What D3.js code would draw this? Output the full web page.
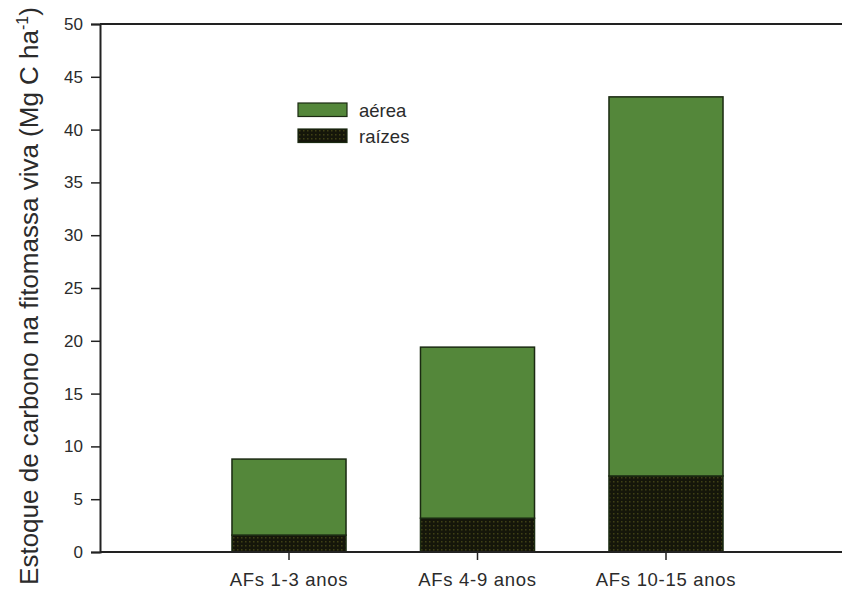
<!DOCTYPE html>
<html>
<head>
<meta charset="utf-8">
<script src="https://cdn.jsdelivr.net/npm/d3@7"></script>
<style>
  html, body { margin: 0; padding: 0; background: #fff; }
  svg { display: block; }
  text { font-family: "Liberation Sans", Arial, sans-serif; fill: #2b2b2b; }
</style>
</head>
<body>
<svg id="chart" width="842" height="594"></svg>
<script>
// Stocks of carbon in living phytomass (Mg C/ha) per agroforest age class
const categories = ["AFs 1-3 anos", "AFs 4-9 anos", "AFs 10-15 anos"];
const raizes = [1.6, 3.2, 7.2];     // roots (bottom segment)
const aerea = [7.2, 16.2, 35.9];    // above-ground (top segment)
const yTicks = [0, 5, 10, 15, 20, 25, 30, 35, 40, 45, 50];
const seriesNames = ["raízes", "aérea"];

const svg = d3.select("#chart");

const x = d3.scaleBand()
  .domain(categories)
  .range([194.75, 760.25])
  .paddingInner(0.395)
  .paddingOuter(0.1975);

const y = d3.scaleLinear().domain([0, 50]).range([552, 24]);

// Dotted dark fill for the root segment
const defs = svg.append("defs");
const pat = defs.append("pattern")
  .attr("id", "rootsPattern")
  .attr("patternUnits", "userSpaceOnUse")
  .attr("width", 4).attr("height", 4);
pat.append("rect").attr("width", 4).attr("height", 4).attr("fill", "#15160a");
pat.append("rect").attr("x", 1).attr("y", 1).attr("width", 1.5).attr("height", 1.5).attr("fill", "#3f4015");

const rows = categories.map((c, i) => ({ cat: c, "raízes": raizes[i], "aérea": aerea[i] }));
const stacked = d3.stack().keys(seriesNames)(rows);
const fills = { "raízes": "url(#rootsPattern)", "aérea": "#54873a" };

const barG = svg.append("g");
stacked.forEach(layer => {
  barG.append("g")
    .selectAll("rect")
    .data(layer)
    .join("rect")
    .attr("x", d => x(d.data.cat))
    .attr("width", x.bandwidth())
    .attr("y", d => y(d[1]))
    .attr("height", d => y(d[0]) - y(d[1]))
    .attr("fill", fills[layer.key])
    .attr("stroke", "#1b2a12")
    .attr("stroke-width", 1.5);
});

// Y axis
const yAxis = svg.append("g")
  .attr("transform", "translate(100,0)")
  .call(d3.axisLeft(y).tickValues(yTicks).tickSize(9).tickPadding(8));
yAxis.select(".domain").attr("stroke", "#222").attr("stroke-width", 2);
yAxis.selectAll(".tick line").attr("stroke", "#222").attr("stroke-width", 1.5);
yAxis.selectAll(".tick text").attr("font-size", 17).attr("fill", "#333");

// X axis
const xAxis = svg.append("g")
  .attr("transform", "translate(0,552)")
  .call(d3.axisBottom(x).tickSize(8).tickSizeOuter(0));
xAxis.select(".domain").attr("d", "M100,0H842").attr("stroke", "#222").attr("stroke-width", 2);
xAxis.selectAll(".tick line").attr("stroke", "#222").attr("stroke-width", 1.5);
xAxis.selectAll(".tick text")
  .attr("y", 34).attr("dy", 0)
  .attr("font-size", 18.5)
  .attr("letter-spacing", 0.7)
  .attr("fill", "#333");

// Top frame line
svg.append("line")
  .attr("x1", 100).attr("x2", 842)
  .attr("y1", y(50)).attr("y2", y(50))
  .attr("stroke", "#222").attr("stroke-width", 2);

// Y axis title
const yTitle = svg.append("text")
  .attr("transform", "translate(38,296) rotate(-90)")
  .attr("text-anchor", "middle")
  .attr("font-size", 26)
  .attr("fill", "#333");
yTitle.append("tspan").text("Estoque de carbono na fitomassa viva (Mg C ha");
yTitle.append("tspan").attr("dy", -10).attr("font-size", 16).text("-1");
yTitle.append("tspan").attr("dy", 10).text(")");

// Legend
const legend = svg.append("g").attr("transform", "translate(298,103)");
const legendItems = ["aérea", "raízes"];
legendItems.forEach((name, i) => {
  const g = legend.append("g").attr("transform", `translate(0,${i * 26})`);
  g.append("rect")
    .attr("width", 49).attr("height", 13.5)
    .attr("fill", fills[name])
    .attr("stroke", "#1b2a12").attr("stroke-width", 1.2);
  g.append("text")
    .attr("x", 61).attr("y", 13.5)
    .attr("font-size", 18.5)
    .attr("fill", "#333")
    .text(name);
});
</script>
</body>
</html>
